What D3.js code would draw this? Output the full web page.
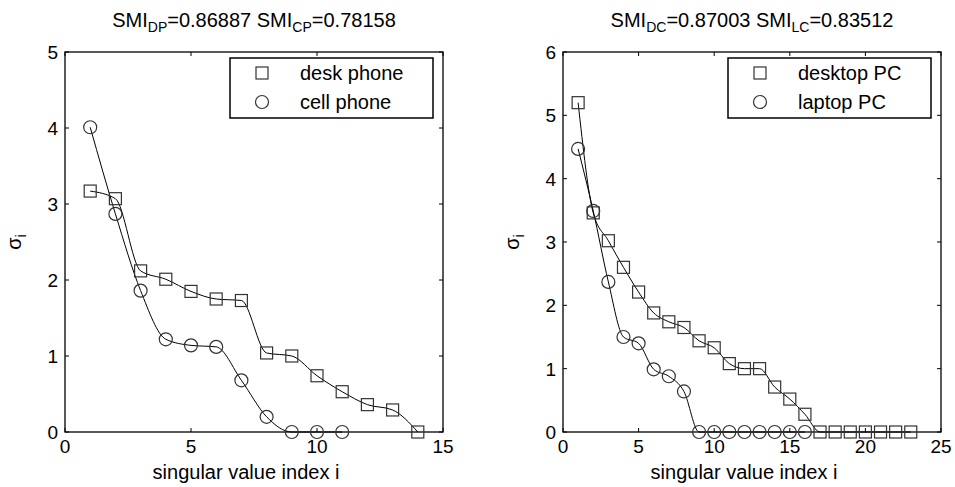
<!DOCTYPE html>
<html>

<head>
  <meta charset="utf-8">
  <title></title>
  <style>
    body { margin: 0; background: #fff; }
    text { font-family: "Liberation Sans", Arial, sans-serif; fill: #000; }
  </style>
</head>

<body>
  <script src="https://d3js.org/d3.v7.min.js" charset="utf-8"></script>
  <script type="text/javascript">
    // left panel: phones
    var deskPhone = [3.17, 3.07, 2.12, 2.01, 1.85, 1.75, 1.73, 1.04, 1.0, 0.74, 0.53, 0.36, 0.29, 0];
    var cellPhone = [4.01, 2.87, 1.86, 1.22, 1.14, 1.12, 0.68, 0.2, 0, 0, 0];
    // right panel: computers
    var desktopPC = [5.2, 3.46, 3.02, 2.6, 2.21, 1.88, 1.74, 1.65, 1.44, 1.33, 1.08, 1.0, 1.0, 0.71, 0.52, 0.28, 0, 0, 0, 0, 0, 0, 0];
    var laptopPC = [4.47, 3.49, 2.37, 1.5, 1.4, 0.99, 0.88, 0.64, 0, 0, 0, 0, 0, 0, 0, 0];

    var xTicksL = [0, 5, 10, 15];
    var yTicksL = [0, 1, 2, 3, 4, 5];
    var xTicksR = [0, 5, 10, 15, 20, 25];
    var yTicksR = [0, 1, 2, 3, 4, 5, 6];

    var width = 955, height = 487;
    var fs = '19px';
    var svg = d3.select('body').append('svg')
      .attr('width', width)
      .attr('height', height);

    function panel(opt) {
      var x = d3.scaleLinear().domain(opt.xdom).range([opt.left, opt.left + 378]);
      var y = d3.scaleLinear().domain(opt.ydom).range([432, 52]);
      var g = svg.append('g');

      // ticks inside the box on all sides
      opt.xticks.forEach(function(t) {
        g.append('line').attr('x1', x(t)).attr('x2', x(t)).attr('y1', 432).attr('y2', 428).attr('stroke', '#000');
        g.append('line').attr('x1', x(t)).attr('x2', x(t)).attr('y1', 52).attr('y2', 56).attr('stroke', '#000');
        g.append('text').attr('x', x(t)).attr('y', 453).attr('text-anchor', 'middle')
          .style('font-size', fs).text(t);
      });
      opt.yticks.forEach(function(t) {
        g.append('line').attr('x1', x.range()[0]).attr('x2', x.range()[0] + 4).attr('y1', y(t)).attr('y2', y(t)).attr('stroke', '#000');
        g.append('line').attr('x1', x.range()[1]).attr('x2', x.range()[1] - 4).attr('y1', y(t)).attr('y2', y(t)).attr('stroke', '#000');
        g.append('text').attr('x', x.range()[0] - 7).attr('y', y(t) + 7).attr('text-anchor', 'end')
          .style('font-size', fs).text(t);
      });

      g.append('rect').attr('x', x.range()[0]).attr('y', 52).attr('width', 378).attr('height', 380)
        .attr('fill', 'none').attr('stroke', '#000').attr('stroke-width', 1.3);

      var line = d3.line()
        .x(function(d, i) { return x(i + 1); })
        .y(function(d) { return y(d); })
        .curve(d3.curveMonotoneX);

      [opt.sq, opt.ci].forEach(function(s) {
        g.append('path').attr('d', line(s)).attr('fill', 'none').attr('stroke', '#000').attr('stroke-width', 1);
      });

      g.selectAll('rect.sq').data(opt.sq).enter().append('rect').attr('class', 'sq')
        .attr('x', function(d, i) { return x(i + 1) - 6; })
        .attr('y', function(d) { return y(d) - 6; })
        .attr('width', 12).attr('height', 12)
        .attr('fill', 'none').attr('stroke', '#333').attr('stroke-width', 1.2);
      g.selectAll('circle.ci').data(opt.ci).enter().append('circle').attr('class', 'ci')
        .attr('cx', function(d, i) { return x(i + 1); })
        .attr('cy', function(d) { return y(d); })
        .attr('r', 6.5)
        .attr('fill', 'none').attr('stroke', '#333').attr('stroke-width', 1.2);

      // title with subscripts
      var cx = x.range()[0] + 189;
      var t = g.append('text').attr('x', cx).attr('y', 27).attr('text-anchor', 'middle').style('font-size', '20px');
      t.append('tspan').text('SMI');
      t.append('tspan').attr('dy', 5).style('font-size', '14px').text(opt.sub[0]);
      t.append('tspan').attr('dy', -5).text('=' + opt.val[0] + ' SMI');
      t.append('tspan').attr('dy', 5).style('font-size', '14px').text(opt.sub[1]);
      t.append('tspan').attr('dy', -5).text('=' + opt.val[1]);

      g.append('text').attr('x', cx - 8).attr('y', 479).attr('text-anchor', 'middle')
        .style('font-size', '20px').text('singular value index i');

      var yl = g.append('text').attr('transform', 'translate(' + (x.range()[0] - 44) + ',242) rotate(-90)')
        .attr('text-anchor', 'middle').style('font-size', '20px');
      yl.append('tspan').text('σ');
      yl.append('tspan').attr('dy', 5).style('font-size', '14px').text('i');

      // legend
      var lx = opt.legX, lw = 203;
      g.append('rect').attr('x', lx).attr('y', 58).attr('width', lw).attr('height', 60)
        .attr('fill', '#fff').attr('stroke', '#000').attr('stroke-width', 1.5);
      g.append('rect').attr('x', lx + 26).attr('y', 67).attr('width', 12).attr('height', 12)
        .attr('fill', 'none').attr('stroke', '#333').attr('stroke-width', 1.2);
      g.append('circle').attr('cx', lx + 32).attr('cy', 102).attr('r', 6.5)
        .attr('fill', 'none').attr('stroke', '#333').attr('stroke-width', 1.2);
      g.append('text').attr('x', lx + 70).attr('y', 80).style('font-size', '20px').text(opt.names[0]);
      g.append('text').attr('x', lx + 70).attr('y', 109).style('font-size', '20px').text(opt.names[1]);
    }

    panel({
      left: 65, xdom: [0, 15], ydom: [0, 5], xticks: xTicksL, yticks: yTicksL,
      sq: deskPhone, ci: cellPhone, sub: ['DP', 'CP'], val: ['0.86887', '0.78158'],
      names: ['desk phone', 'cell phone'], legX: 230
    });
    panel({
      left: 563, xdom: [0, 25], ydom: [0, 6], xticks: xTicksR, yticks: yTicksR,
      sq: desktopPC, ci: laptopPC, sub: ['DC', 'LC'], val: ['0.87003', '0.83512'],
      names: ['desktop PC', 'laptop PC'], legX: 728
    });
  </script>
</body>

</html>
